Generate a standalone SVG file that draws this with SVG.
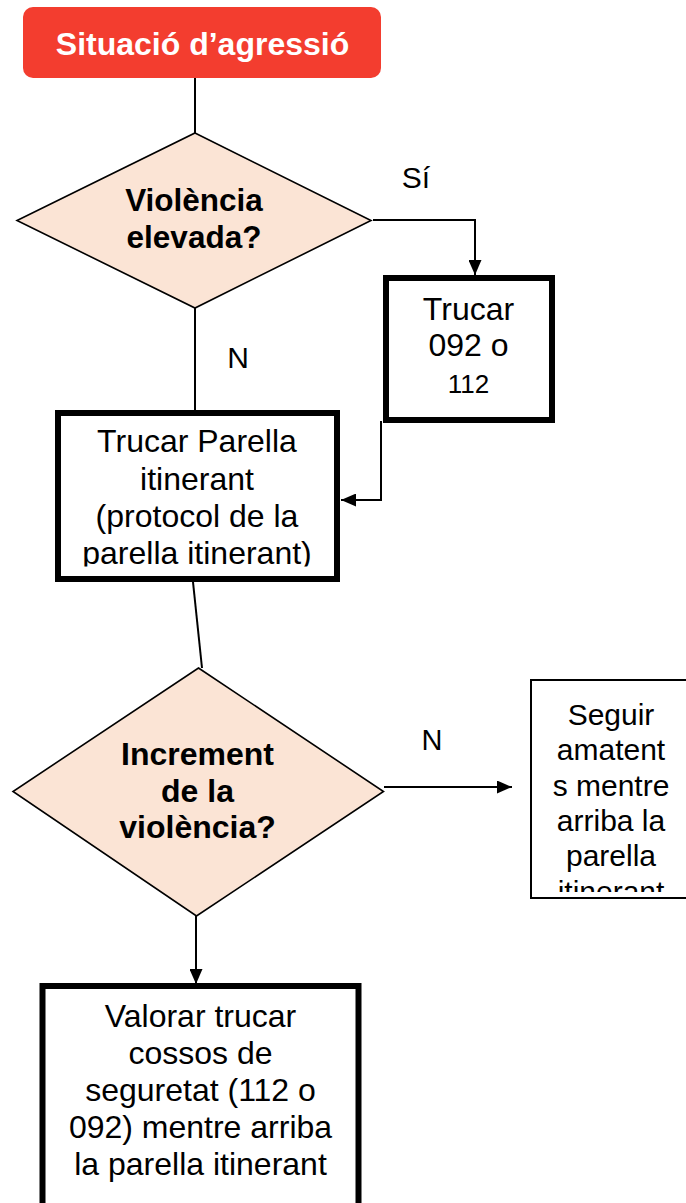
<svg xmlns="http://www.w3.org/2000/svg" width="686" height="1203" viewBox="0 0 686 1203">
<style>
.t{font-family:"Liberation Sans",Arial,sans-serif;text-anchor:middle;fill:#000}
.b{font-weight:bold}
.dia{fill:#FBE4D5;stroke:#000;stroke-width:1.6}
.box{fill:#fff;stroke:#000;stroke-width:6}
.con{fill:none;stroke:#000;stroke-width:2}
</style>
<defs>
<marker id="ah" markerUnits="userSpaceOnUse" markerWidth="15" markerHeight="13" refX="15" refY="6.5" orient="auto">
<path d="M0,0 L15,6.5 L0,13 z" fill="#000"/>
</marker>
<clipPath id="clipP"><rect x="58" y="413" width="279" height="153.5"/></clipPath>
<clipPath id="clipS"><rect x="531" y="681" width="155" height="211"/></clipPath>
</defs>
<g id="connectors">
<path class="con" d="M195,78 V133"/>
<path class="con" d="M373,220 H475 V275" marker-end="url(#ah)"/>
<path class="con" d="M195,308 V410"/>
<path class="con" d="M381,421 V500 H341" marker-end="url(#ah)"/>
<path class="con" d="M193,582 L202,668" stroke-width="1.6"/>
<path class="con" d="M384,787 H512" marker-end="url(#ah)"/>
<path class="con" d="M196,916 V984" marker-end="url(#ah)"/>
<text class="t" x="416" y="188" font-size="30">Sí</text>
<text class="t" x="238" y="368" font-size="30">N</text>
<text class="t" x="432" y="750" font-size="29">N</text>
</g>
<g id="start">
<rect x="23" y="7" width="358" height="71" rx="10" fill="#F33D2F"/>
<text class="t b" x="202.5" y="55" font-size="32" style="fill:#fff">Situació d’agressió</text>
</g>
<g id="decision1">
<polygon class="dia" points="195,133 371,220.5 195,308 17,220.5"/>
<text class="t b" x="194" y="211" font-size="31.5">Violència</text>
<text class="t b" x="194" y="248" font-size="31.5">elevada?</text>
</g>
<g id="call112">
<rect class="box" x="386" y="278" width="166" height="142"/>
<text class="t" x="468.5" y="319.5" font-size="32">Trucar</text>
<text class="t" x="468.5" y="356" font-size="32">092 o</text>
<text class="t" x="468.5" y="393" font-size="26">112</text>
</g>
<g id="callParella">
<rect class="box" x="58" y="413" width="279" height="166"/>
<g clip-path="url(#clipP)">
<text class="t" x="197" y="452" font-size="32">Trucar Parella</text>
<text class="t" x="197" y="489.5" font-size="32">itinerant</text>
<text class="t" x="197" y="526.5" font-size="32">(protocol de la</text>
<text class="t" x="197" y="563.5" font-size="32">parella itinerant)</text>
</g>
</g>
<g id="decision2">
<polygon class="dia" points="198.5,668 383.5,791.5 196.5,916 13,791.5"/>
<text class="t b" x="197.5" y="765" font-size="32">Increment</text>
<text class="t b" x="197.5" y="801.5" font-size="32">de la</text>
<text class="t b" x="197.5" y="838" font-size="32">violència?</text>
</g>
<g id="seguir">
<rect x="531" y="680" width="170" height="218" fill="#fff" stroke="#000" stroke-width="2"/>
<g clip-path="url(#clipS)">
<text class="t" x="611" y="725" font-size="30">Seguir</text>
<text class="t" x="611" y="760" font-size="30">amatent</text>
<text class="t" x="611" y="795.5" font-size="30">s mentre</text>
<text class="t" x="611" y="831" font-size="30">arriba la</text>
<text class="t" x="611" y="866" font-size="30">parella</text>
<text class="t" x="611" y="901.5" font-size="30">itinerant</text>
</g>
</g>
<g id="valorar">
<rect class="box" x="42.5" y="986" width="316" height="260"/>
<text class="t" x="200.5" y="1027" font-size="32">Valorar trucar</text>
<text class="t" x="200.5" y="1064" font-size="32">cossos de</text>
<text class="t" x="200.5" y="1101" font-size="32">seguretat (112 o</text>
<text class="t" x="200.5" y="1138" font-size="32">092) mentre arriba</text>
<text class="t" x="200.5" y="1175" font-size="32">la parella itinerant</text>
</g>
</svg>
